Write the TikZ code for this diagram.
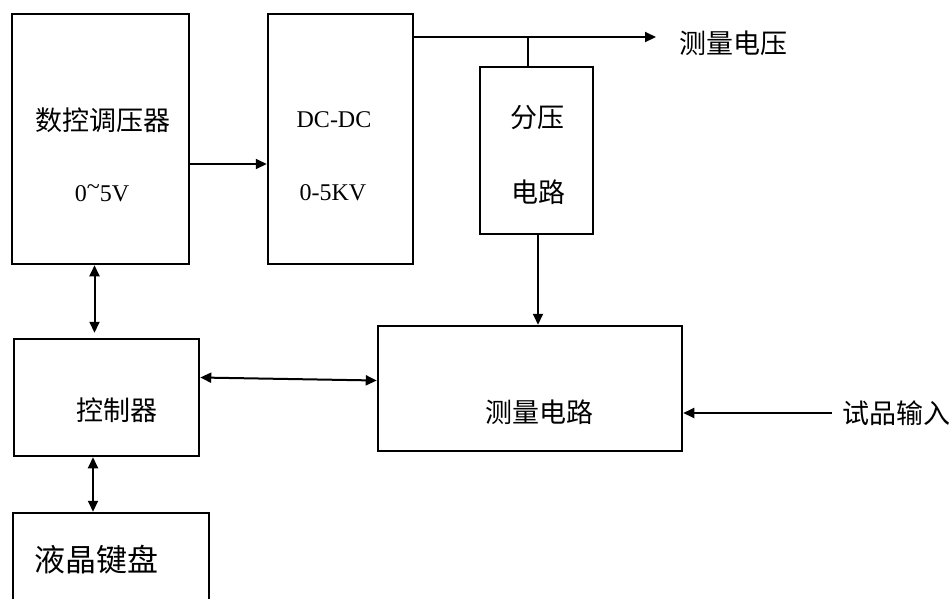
\documentclass[tikz,border=0pt]{standalone}
\usepackage{fontspec}
\setmainfont{Noto Sans CJK SC}
\newfontfamily\latin{Liberation Serif}
\usetikzlibrary{arrows.meta}

\tikzstyle{blk} = [rectangle, draw = black, line width = 2.5pt, fill = white]
\tikzstyle{blkthin} = [rectangle, draw = black, line width = 1.5pt, fill = white]
\tikzstyle{txt} = [inner sep = 0pt, font = \fontsize{27}{30}\selectfont]
\tikzstyle{ltxt} = [inner sep = 0pt, font = \fontsize{24}{28}\latin]
\tikzstyle{arrow} = [line width = 2pt, -{Triangle[length=11pt, width=10pt]}, draw = black]
\tikzstyle{darrow} = [line width = 2pt, {Triangle[length=11pt, width=10pt]}-{Triangle[length=11pt, width=10pt]}, draw = black]
\tikzstyle{wire} = [line width = 2pt, -, draw = black]

\begin{document}
\begin{tikzpicture}[x = 1pt, y = -1pt]
    \useasboundingbox (0, 0) rectangle (952, 598);
    	\node(volt)[blk, minimum width = 177pt, minimum height = 250pt] at (100.5, 139) {};
    	\node(dcdc)[blk, minimum width = 145pt, minimum height = 250pt] at (340.5, 139) {};
    	\node(divider)[blkthin, minimum width = 113pt, minimum height = 167pt] at (536.5, 150.5) {};
    	\node(meas)[blk, minimum width = 304pt, minimum height = 125pt] at (530, 388.5) {};
    	\node(ctrl)[blk, minimum width = 185pt, minimum height = 117pt] at (106.5, 397.5) {};
    	\node(kbd)[blk, minimum width = 196pt, minimum height = 150pt] at (111, 588) {};
        % texts
    	\node(volt_name)[txt] at (103, 120) {数控调压器};
    	\node(volt_range)[ltxt] at (102, 193) {0\raisebox{0.3em}{\textasciitilde}5V};
    	\node(dcdc_name)[ltxt] at (334, 120) {DC-DC};
    	\node(dcdc_range)[ltxt] at (333, 193) {0-5KV};
    	\node(divider_a)[txt] at (537, 118) {分压};
    	\node(divider_b)[txt] at (538, 192) {电路};
    	\node(ctrl_name)[txt] at (117, 410) {控制器};
    	\node(meas_name)[txt] at (539, 412) {测量电路};
    	\node(kbd_name)[txt, font = \fontsize{31}{34}\selectfont] at (96, 560) {液晶键盘};
    	\node(vout_name)[txt] at (733, 43) {测量电压};
    	\node(input_name)[txt] at (896, 413) {试品输入};
    	\coordinate(tap) at (528, 37);
    	\coordinate(vout) at (656, 37);
        \draw[arrow] ([yshift=-25pt]volt.east) -- ([yshift=-25pt]dcdc.west);
        \draw[wire] (dcdc.east |- tap) -- (tap);
        \draw[arrow] (tap) -- (vout);
        \draw[wire] (tap) -- (tap |- divider.north);
        \draw[arrow] ([xshift=1.5pt]divider.south) -- ([xshift=1.5pt]divider.south |- meas.north);
        \draw[darrow, shorten >= 5pt] ([xshift=-6pt]volt.south) -- ([xshift=-6pt]volt.south |- ctrl.north);
        \draw[darrow] ([xshift=-13.5pt]ctrl.south) -- ([xshift=-13.5pt]ctrl.south |- kbd.north);
        \draw[darrow] ([yshift=20pt]ctrl.east) -- ([yshift=8pt]meas.west);
        \draw[arrow] ([xshift=-10pt]input_name.west) -- (meas.east |- input_name.west);
    \end{tikzpicture}
\end{document}
